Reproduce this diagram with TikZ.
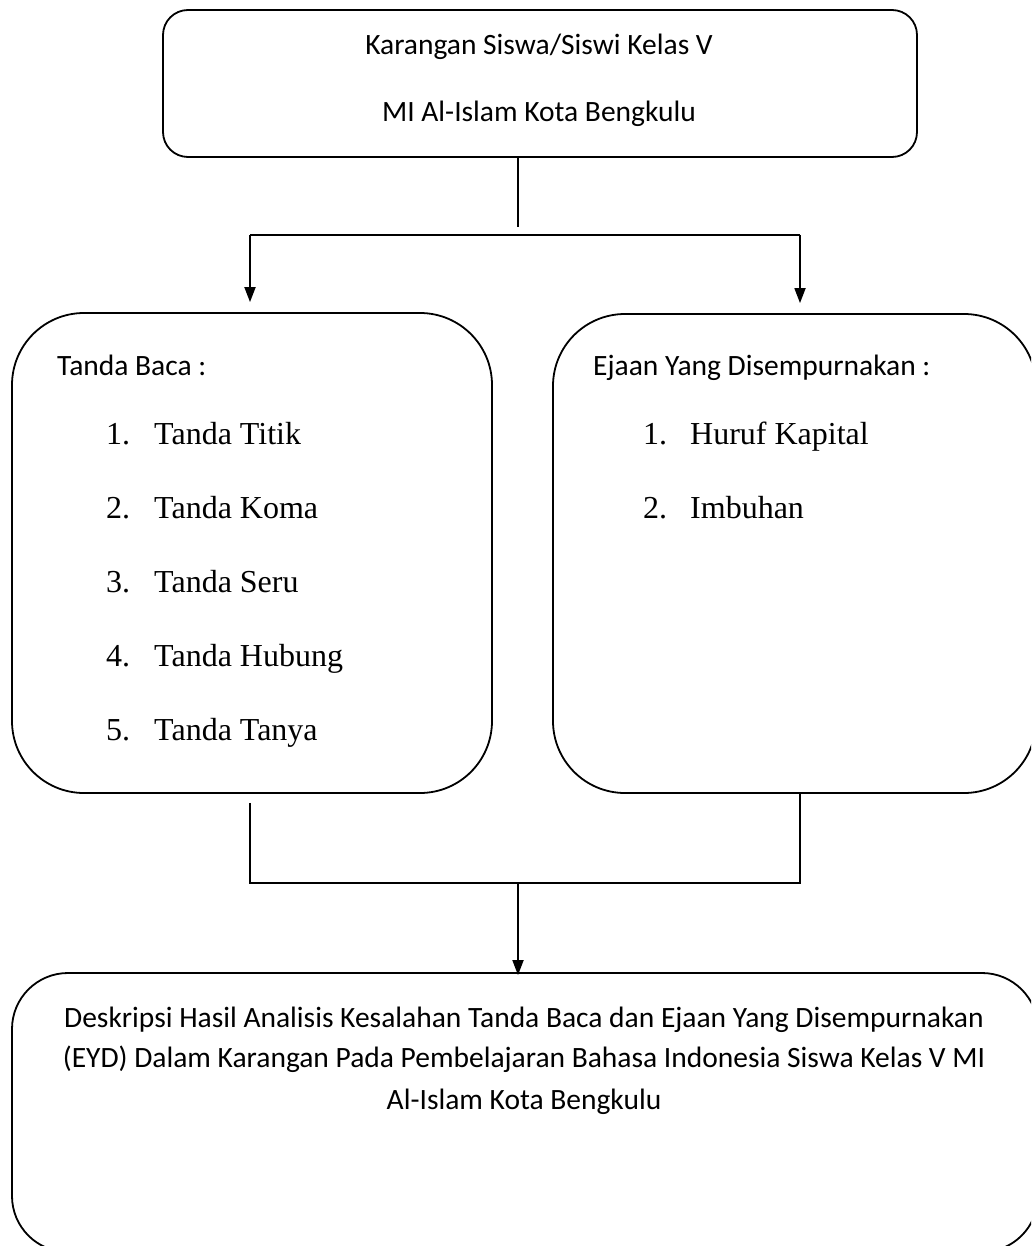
\documentclass[tikz,border=0pt]{standalone}
\usepackage{fontspec}
\setmainfont{Carlito}
\newfontfamily\listfont{Liberation Serif}
\usetikzlibrary{arrows.meta}

\tikzset{
  box/.style ={draw, line width=1.8pt, inner sep=0pt},
  conn/.style ={line width=1.8pt},
  arr/.style ={conn, -{Triangle[length=15pt,width=11pt]}},
  head/.style ={font=\fontsize{29.5}{35}\selectfont, anchor=base west, inner sep=0pt},
  entry/.style ={font=\listfont\fontsize{32}{38}\selectfont, anchor=base west, inner sep=0pt},
}

\begin{document}
\begin{tikzpicture}
[
  x=1pt, y=-1pt,
]
\useasboundingbox (0,0) rectangle (1031,1246);
\clip (0,0) rectangle (1031,1246);

% boxes
\node[box, rounded corners=25pt, minimum width=754pt, minimum height=147pt] (top) at (540,83.5) {};
\node[box, rounded corners=72pt, minimum width=480pt, minimum height=480pt] (lbox) at (252,553) {};
\node[box, rounded corners=72pt, minimum width=483pt, minimum height=479pt] (rbox) at (794.5,553.5) {};
\node[box, rounded corners=56pt, minimum width=1026pt, minimum height=279pt] (bbox) at (525,1112.5) {};

% top box text
\node[head, anchor=base] (t1) at (539,55) {Karangan Siswa/Siswi Kelas V};
\node[head, anchor=base] (t2) at (539,122) {MI Al-Islam Kota Bengkulu};

% left box
\node[head] (lhead) at (57,375) {Tanda Baca :};
\foreach \t [count=\i] in {Tanda Titik,Tanda Koma,Tanda Seru,Tanda Hubung,Tanda Tanya} {
  \node[entry] (ln\i) at (106,{370+74*\i}) {\i.};
  \node[entry] (lt\i) at (154,{370+74*\i}) {\t};
}

% right box
\node[head] (rhead) at (593,375) {Ejaan Yang Disempurnakan :};
\foreach \t [count=\i] in {Huruf Kapital,Imbuhan} {
  \node[entry] (rn\i) at (643,{370+74*\i}) {\i.};
  \node[entry] (rt\i) at (690,{370+74*\i}) {\t};
}

% bottom box text
\node[head, anchor=base] (b1) at (524,1027) {Deskripsi Hasil Analisis Kesalahan Tanda Baca dan Ejaan Yang Disempurnakan};
\node[head, anchor=base] (b2) at (524,1067) {(EYD) Dalam Karangan Pada Pembelajaran Bahasa Indonesia Siswa Kelas V MI};
\node[head, anchor=base] (b3) at (524,1109) {Al-Islam Kota Bengkulu};

% connectors
\coordinate (split) at (518,235);
\coordinate (lsplit) at (250,235);
\coordinate (rsplit) at (800,235);
\coordinate (ljoin) at (250,883);
\coordinate (rjoin) at (800,883);
\coordinate (join) at (518,883);

\draw[conn] (top.south -| split) -- ([yshift=8pt]split);
\draw[conn] (lsplit)--(rsplit);
\draw[arr, shorten >=10pt] (lsplit) -- (lsplit |- lbox.north);
\draw[arr, shorten >=10pt] (rsplit) -- (rsplit |- rbox.north);

\draw[conn, shorten <=9pt] (ljoin |- lbox.south) -- (ljoin) -- (rjoin) -- (rjoin |- rbox.south);
\draw[arr, shorten >=-3pt] (join) -- (join |- bbox.north);

\end{tikzpicture}
\end{document}
